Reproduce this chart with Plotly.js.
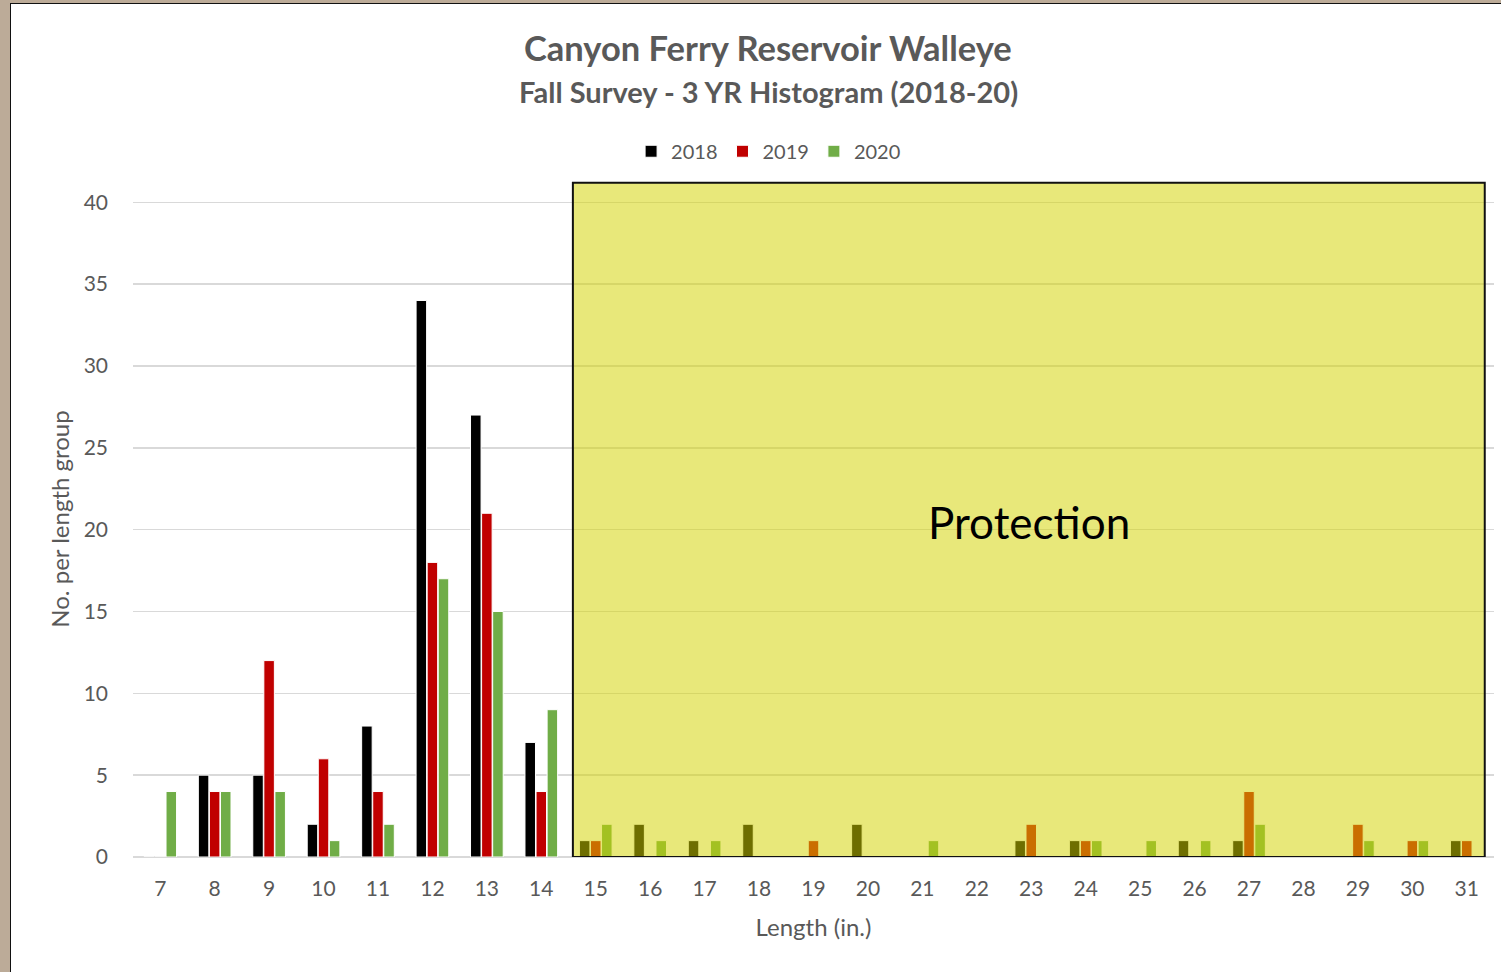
<!DOCTYPE html>
<html>
<head>
<meta charset="utf-8">
<script src="https://cdn.plot.ly/plotly-3.0.1.min.js"></script>
<style>
html,body{margin:0;padding:0;background:#bcab98;width:1501px;height:972px;overflow:hidden;}
#wrap{position:absolute;left:10px;top:3px;width:1491px;height:969px;background:#fff;border-left:1.5px solid #111;border-top:1.5px solid #111;box-sizing:border-box;}
#chart{width:1490px;height:968px;}
</style>
</head>
<body>
<div id="wrap"><div id="chart"></div></div>
<script>
const lengths = [7,8,9,10,11,12,13,14,15,16,17,18,19,20,21,22,23,24,25,26,27,28,29,30,31];
const y2018 = [0,5,5,2,8,34,27,7,1,2,1,2,0,2,0,0,1,1,0,1,1,0,0,0,1];
const y2019 = [0,4,12,6,4,18,21,4,1,0,0,0,1,0,0,0,2,1,0,0,4,0,2,1,1];
const y2020 = [4,4,4,1,2,17,15,9,2,1,1,0,0,0,1,0,0,1,1,1,2,0,1,1,0];
const seriesNames = ['2018','2019','2020'];
const seriesColors = ['#000000','#C00000','#70AD47'];
const protectionStart = 14.58, protectionEnd = 31.33, protectionTop = 41.2;

const font = 'Lato, "Open Sans", sans-serif';
const gray = '#595959';

const traces = [y2018,y2019,y2020].map((vals,i)=>({
  type:'bar', x:lengths, y:vals, name:seriesNames[i],
  marker:{color:seriesColors[i], line:{color:'#ffffff', width:1}}
}));

const layout = {
  width:1490, height:968,
  margin:{l:122, r:7, t:177, b:115},
  paper_bgcolor:'#ffffff', plot_bgcolor:'#ffffff',
  font:{family:font, color:gray},
  barmode:'group', bargap:0.39, bargroupgap:0.05,
  showlegend:true,
  legend:{orientation:'h', x:0.467, xanchor:'center', y:1.044, yanchor:'middle', font:{size:20, color:gray}, itemwidth:30, tracegroupgap:0},
  xaxis:{
    range:[6.5,31.5], tickmode:'array', tickvals:lengths, ticktext:lengths.map(String),
    tickfont:{size:21, color:gray}, showgrid:false, zeroline:false, showline:false, ticks:'',
    ticklabelstandoff:17,
    title:{text:'Length (in.)', font:{size:24, color:gray}, standoff:20}
  },
  yaxis:{
    range:[0,41.3], tickvals:[0,5,10,15,20,25,30,35,40],
    tickfont:{size:21, color:gray}, showgrid:true, gridcolor:'#d9d9d9', gridwidth:1.5,
    zeroline:true, zerolinecolor:'#d9d9d9', zerolinewidth:1.5, showline:false, ticks:'',
    ticklabelstandoff:24,
    title:{text:'No. per length group', font:{size:24, color:gray}, standoff:7}
  },
  shapes:[
    {type:'rect', xref:'x', yref:'y', x0:protectionStart, x1:protectionEnd, y0:0, y1:protectionTop,
     fillcolor:'rgb(211,211,0)', opacity:0.52, line:{width:0}, layer:'above'},
    {type:'rect', xref:'x', yref:'y', x0:protectionStart, x1:protectionEnd, y0:0, y1:protectionTop,
     fillcolor:'rgba(0,0,0,0)', line:{color:'#111111', width:2}, layer:'above'}
  ],
  annotations:[
    {text:'<b>Canyon Ferry Reservoir Walleye</b>', xref:'paper', yref:'paper', x:0.4666, y:1.198, xanchor:'center', yanchor:'middle', showarrow:false, font:{size:34.5, color:gray, family:font}},
    {text:'<b>Fall Survey - 3 YR Histogram (2018-20)</b>', xref:'paper', yref:'paper', x:0.4666, y:1.133, xanchor:'center', yanchor:'middle', showarrow:false, font:{size:29, color:gray, family:font}},
    {text:'Protection', xref:'x', yref:'y', x:(protectionStart+protectionEnd)/2, y:20.46, xanchor:'center', yanchor:'middle', showarrow:false, font:{size:44, color:'#000000', family:font}}
  ]
};

Plotly.newPlot('chart', traces, layout, {displayModeBar:false, staticPlot:true});
</script>
</body>
</html>
